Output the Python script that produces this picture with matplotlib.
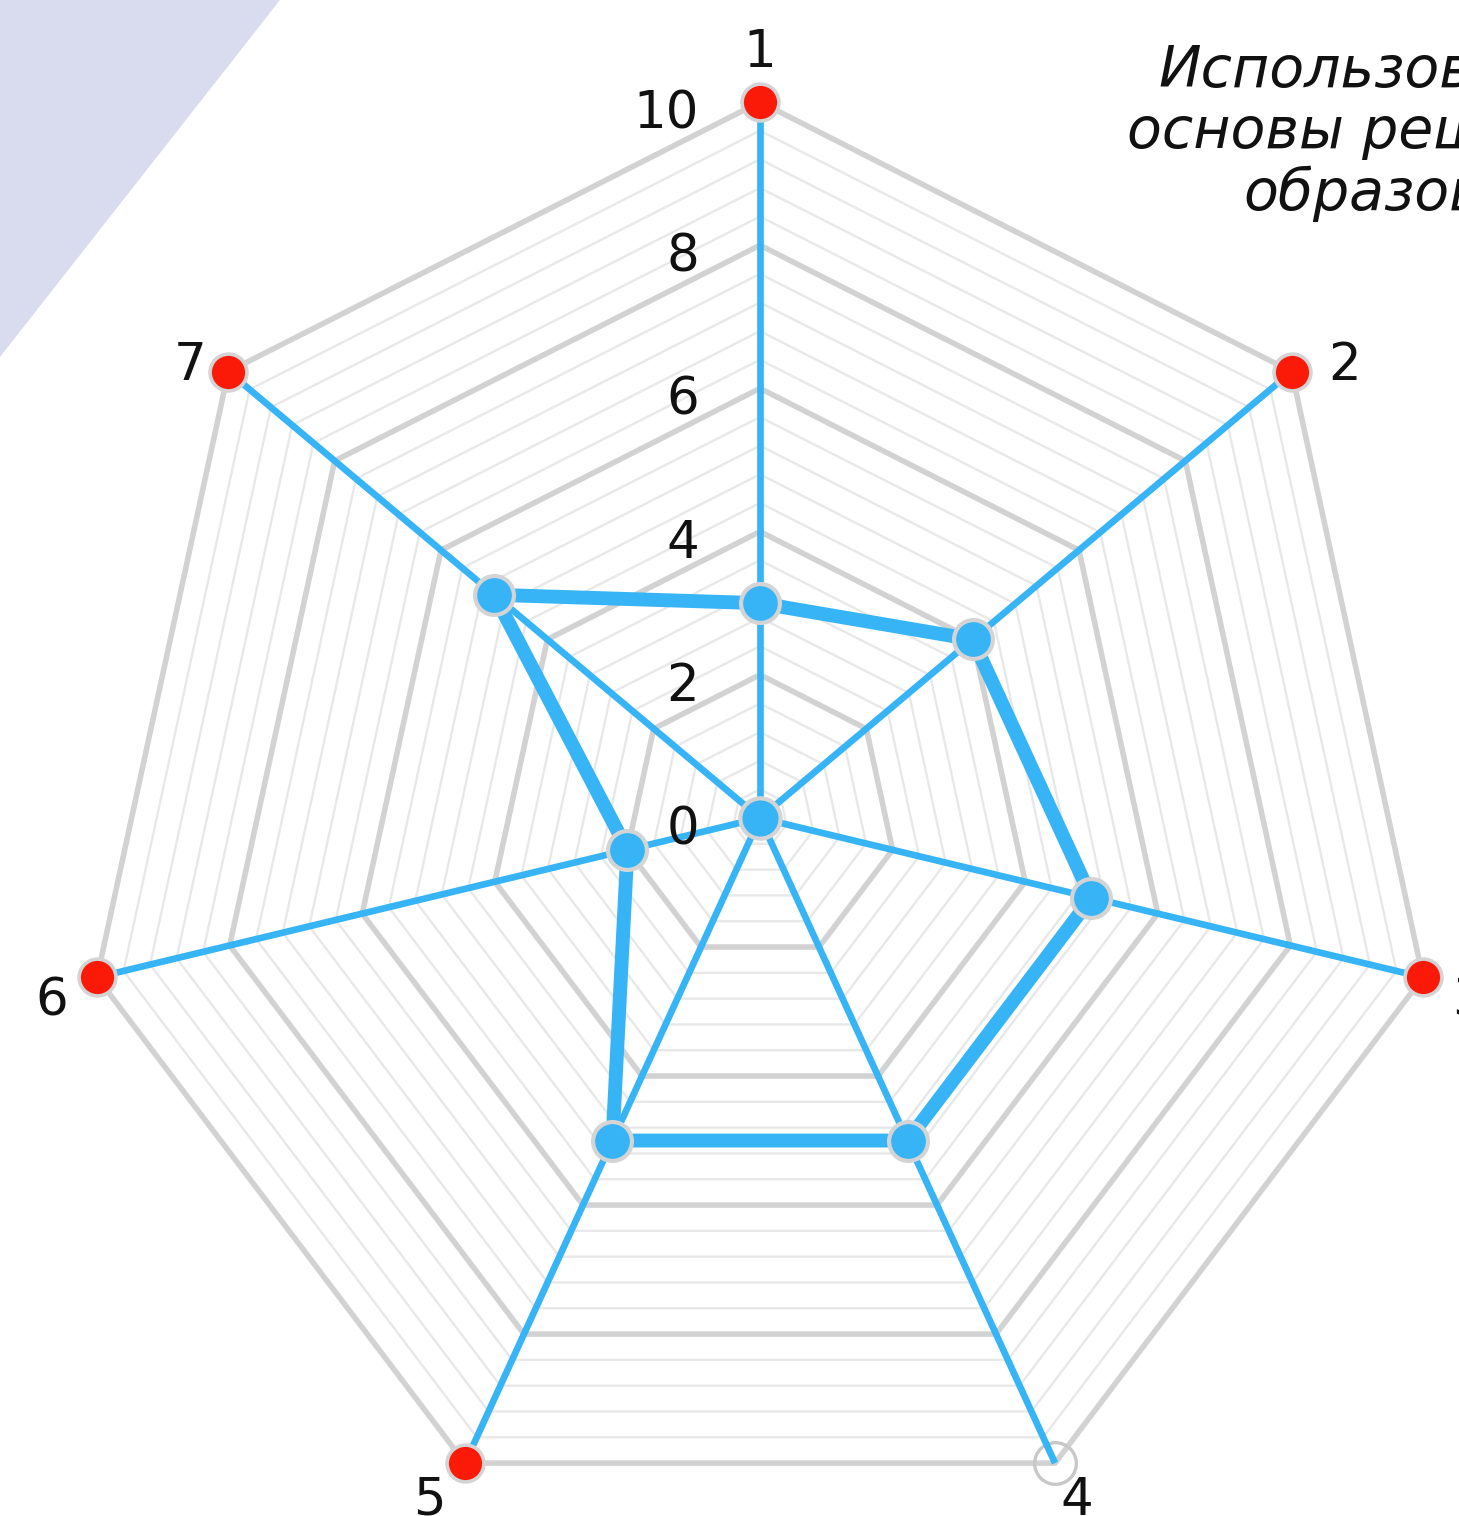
import numpy as np
import matplotlib
matplotlib.use('Agg')
import matplotlib.pyplot as plt
from matplotlib.patches import Polygon

# ---------------- data ----------------
axis_labels = ['1', '2', '3', '4', '5', '6', '7']
values = [3, 4, 5, 5, 5, 2, 5]
r_max = 10
tick_values = [0, 2, 4, 6, 8, 10]
tick_labels = ['0', '2', '4', '6', '8', '10']
hollow_axes = ['4']
title_lines = ['Использование', 'основы решения', 'образования']

# ---------------- style ----------------
BLUE = '#36b4f6'
RED = '#fb1a08'
EDGE = '#d4d4d4'
GRID_MAJOR = '#d2d2d2'
GRID_MINOR = '#e8e8e8'

n = len(axis_labels)
theta = np.pi / 2 - 2 * np.pi * np.arange(n) / n
cx, cy = np.cos(theta), np.sin(theta)

fig = plt.figure(figsize=(14.59, 15.16), dpi=100)
ax = fig.add_axes([0, 0, 1, 1])
sx, sy = 68.0, 71.6
ax.set_xlim(-760 / sx, (1459 - 760) / sx)
ax.set_ylim(-(1516 - 818) / sy, 818 / sy)
ax.axis('off')

# decorative triangle top-left
fig.patches.append(Polygon([(0, 1), (280 / 1459, 1), (0, 1 - 357 / 1516)],
                           closed=True, transform=fig.transFigure,
                           facecolor='#d9dcee', edgecolor='none', zorder=0))

# grid rings
rings = np.round(np.arange(0.4, r_max + 0.001, 0.4), 2)
for r in rings:
    major = abs(r / 2 - round(r / 2)) < 1e-6
    xs = np.append(r * cx, r * cx[0])
    ys = np.append(r * cy, r * cy[0])
    ax.plot(xs, ys, color=GRID_MAJOR if major else GRID_MINOR,
            lw=4.0 if major else 1.7, zorder=1 if major else 0.9,
            solid_joinstyle='miter')

# hollow end marker
for k, lab in enumerate(axis_labels):
    if lab in hollow_axes:
        ax.plot(r_max * cx[k], r_max * cy[k], 'o', ms=30, mfc='none',
                mec='#c8c8c8', mew=2.4, zorder=1.5)

# spokes
for k in range(n):
    ax.plot([0, r_max * cx[k]], [0, r_max * cy[k]], color=BLUE, lw=4.8,
            zorder=2, solid_capstyle='butt')

# data polygon
v = np.array(values, dtype=float)
px = np.append(v * cx, v[0] * cx[0])
py = np.append(v * cy, v[0] * cy[0])
ax.plot(px, py, color=BLUE, lw=10, zorder=3, solid_joinstyle='round')

# red end markers
for k, lab in enumerate(axis_labels):
    if lab not in hollow_axes:
        ax.plot(r_max * cx[k], r_max * cy[k], 'o', ms=26.5, mfc=RED,
                mec=EDGE, mew=2.6, zorder=4)

# data markers and center
ax.plot(v * cx, v * cy, 'o', ms=28, mfc=BLUE, mec=EDGE, mew=3, zorder=5)
ax.plot(0, 0, 'o', ms=29, mfc=BLUE, mec=EDGE, mew=3, zorder=5)

# axis labels (baseline anchored)
offsets = [(0, 25.2), (38.2, -5.8), (32.4, -27.4), (15.8, -37.2),
           (-25.9, -37.2), (-32.4, -27.4), (-27.4, -5.8)]
for k, lab in enumerate(axis_labels):
    ax.annotate(lab, (r_max * cx[k], r_max * cy[k]), xytext=offsets[k],
                textcoords='offset points', ha='center', va='baseline',
                fontsize=37, color='#111111', zorder=6, family='DejaVu Sans')

# tick labels
for tv, tl in zip(tick_values, tick_labels):
    ax.annotate(tl, (0, tv), xytext=(-44, -19), textcoords='offset points',
                ha='right', va='baseline', fontsize=37, color='#111111',
                zorder=6, family='DejaVu Sans')

# title text (cut off at the right edge)
title_pos = [(1158, 87), (1127, 148), (1243, 210)]
for (tx, ty), line in zip(title_pos, title_lines):
    fig.text(tx / 1459, 1 - ty / 1516, line, ha='left', va='baseline',
             fontsize=41, style='italic', family='DejaVu Sans', color='#111111')

fig.savefig('out.png', dpi=100)
